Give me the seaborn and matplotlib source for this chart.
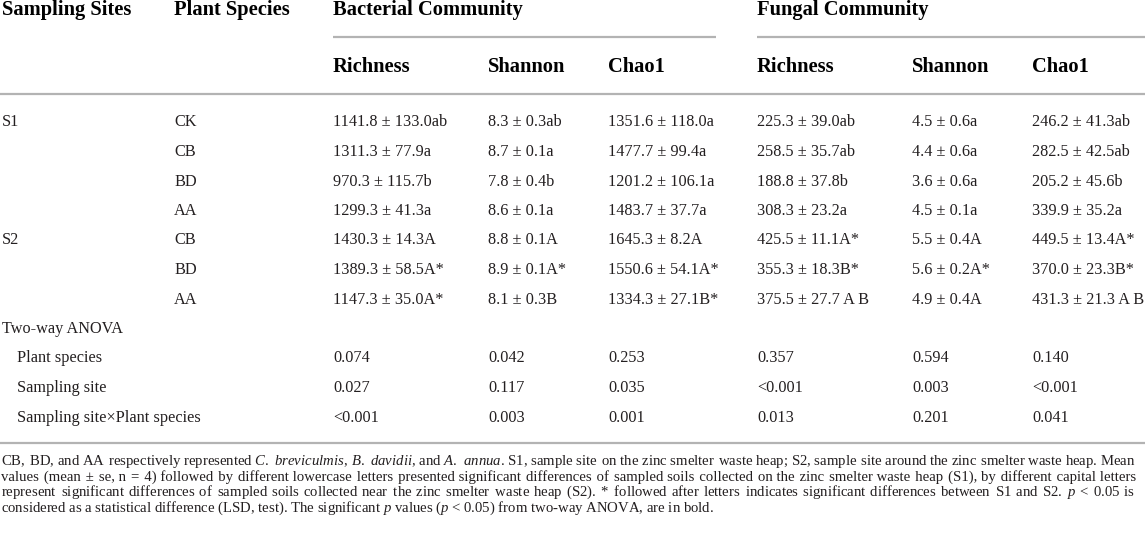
import matplotlib
matplotlib.use("Agg")
import matplotlib.pyplot as plt
import seaborn as sns

# table content
sites = ["S1", "", "", "", "S2", "", ""]
species = ["CK", "CB", "BD", "AA", "CB", "BD", "AA"]
bac_richness = ["1141.8 ± 133.0ab", "1311.3 ± 77.9a", "970.3 ± 115.7b", "1299.3 ± 41.3a",
                "1430.3 ± 14.3A", "1389.3 ± 58.5A*", "1147.3 ± 35.0A*"]
bac_shannon = ["8.3 ± 0.3ab", "8.7 ± 0.1a", "7.8 ± 0.4b", "8.6 ± 0.1a",
               "8.8 ± 0.1A", "8.9 ± 0.1A*", "8.1 ± 0.3B"]
bac_chao1 = ["1351.6 ± 118.0a", "1477.7 ± 99.4a", "1201.2 ± 106.1a", "1483.7 ± 37.7a",
             "1645.3 ± 8.2A", "1550.6 ± 54.1A*", "1334.3 ± 27.1B*"]
fun_richness = ["225.3 ± 39.0ab", "258.5 ± 35.7ab", "188.8 ± 37.8b", "308.3 ± 23.2a",
                "425.5 ± 11.1A*", "355.3 ± 18.3B*", "375.5 ± 27.7 A B"]
fun_shannon = ["4.5 ± 0.6a", "4.4 ± 0.6a", "3.6 ± 0.6a", "4.5 ± 0.1a",
               "5.5 ± 0.4A", "5.6 ± 0.2A*", "4.9 ± 0.4A"]
fun_chao1 = ["246.2 ± 41.3ab", "282.5 ± 42.5ab", "205.2 ± 45.6b", "339.9 ± 35.2a",
             "449.5 ± 13.4A*", "370.0 ± 23.3B*", "431.3 ± 21.3 A B"]

anova_terms = ["Plant species", "Sampling site", "Sampling site×Plant species"]
anova_bac_richness = ["0.074", "0.027", "<0.001"]
anova_bac_shannon = ["0.042", "0.117", "0.003"]
anova_bac_chao1 = ["0.253", "0.035", "0.001"]
anova_fun_richness = ["0.357", "<0.001", "0.013"]
anova_fun_shannon = ["0.594", "0.003", "0.201"]
anova_fun_chao1 = ["0.140", "<0.001", "0.041"]

metrics = ["Richness", "Shannon", "Chao1"]

caption = [
    r"CB, BD, and AA respectively represented $\mathit{C.}$ $\mathit{breviculmis}$, $\mathit{B.}$ $\mathit{davidii}$, and "
    r"$\mathit{A.}$ $\mathit{annua}$. S1, sample site on the zinc smelter waste heap; S2, sample site around the zinc smelter waste heap. Mean",
    "values (mean ± se, n = 4) followed by different lowercase letters presented significant differences of sampled soils "
    "collected on the zinc smelter waste heap (S1), by different capital letters",
    "represent significant differences of sampled soils collected near the zinc smelter waste heap (S2). * followed after "
    r"letters indicates significant differences between S1 and S2. $p$ < 0.05 is",
    r"considered as a statistical difference (LSD, test). The significant $p$ values ($p$ < 0.05) from two-way ANOVA, are in bold.",
]

sns.set_theme(style="white")
plt.rcParams["font.family"] = ["Liberation Serif", "DejaVu Serif"]
plt.rcParams["mathtext.fontset"] = "custom"
plt.rcParams["mathtext.rm"] = "Liberation Serif"
plt.rcParams["mathtext.it"] = "Liberation Serif:italic"

W, H = 1145, 533
fig = plt.figure(figsize=(W / 100, H / 100), dpi=100)
ax = fig.add_axes([0, 0, 1, 1])
ax.set_xlim(0, W)
ax.set_ylim(H, 0)
ax.axis("off")

col_x = [2, 174, 333, 488, 608, 757, 912, 1032]
head_size = 14.8
body_size = 11.7
cap_size = 10.6
txt = "#231f20"
rule = "#b3b3b3"

# headers
for x, s in zip(col_x[:3] + [col_x[5]],
                ["Sampling Sites", "Plant Species", "Bacterial Community", "Fungal Community"]):
    ax.text(x, 15.5, s, fontsize=head_size, fontweight="bold", va="baseline", color="black")
for i, m in enumerate(metrics + metrics):
    ax.text(col_x[2 + i], 71.5, m, fontsize=head_size, fontweight="bold", va="baseline", color="black")

ax.hlines(36.7, 333, 716, color=rule, lw=1.6)
ax.hlines(36.7, 757, W, color=rule, lw=1.6)
ax.hlines([94, 443], 0, W, color=rule, lw=1.6)

# data rows
y0, dy = 126.5, 29.5
cols = [sites, species, bac_richness, bac_shannon, bac_chao1, fun_richness, fun_shannon, fun_chao1]
for r in range(len(species)):
    y = y0 + dy * r
    for c, col in enumerate(cols):
        ax.text(col_x[c], y, col[r], fontsize=body_size, va="baseline", color=txt)

# two-way ANOVA block
y = y0 + dy * len(species)
ax.text(col_x[0], y, "Two-way ANOVA", fontsize=body_size, va="baseline", color=txt)
anova_cols = [anova_bac_richness, anova_bac_shannon, anova_bac_chao1,
              anova_fun_richness, anova_fun_shannon, anova_fun_chao1]
for r, term in enumerate(anova_terms):
    yy = y + dy * (r + 1)
    ax.text(17, yy, term, fontsize=body_size, va="baseline", color=txt)
    for c, col in enumerate(anova_cols):
        ax.text(col_x[2 + c], yy, col[r], fontsize=body_size, va="baseline", color=txt)

# footnote: first three lines justified by padding word gaps with hair spaces
renderer = fig.canvas.get_renderer()


def text_width(s):
    t = ax.text(0, 0, s, fontsize=cap_size)
    w = t.get_window_extent(renderer).width
    t.remove()
    return w


hair = "\u200a"
hair_w = (text_width("a" + hair * 10 + "a") - text_width("aa")) / 10
left, right = 1, 1136
for i, line in enumerate(caption):
    yy = 465 + 15.5 * i
    if i < len(caption) - 1:
        words = line.split(" ")
        n_gaps = len(words) - 1
        extra = max(0, int(round((right - left - text_width(line)) / hair_w)))
        pads = [extra // n_gaps] * n_gaps
        rest = extra % n_gaps
        for k in range(rest):
            pads[int(k * n_gaps / rest)] += 1
        line = words[0] + "".join(" " + hair * p + w for p, w in zip(pads, words[1:]))
    ax.text(left, yy, line, fontsize=cap_size, va="baseline", color=txt)

fig.savefig("out.png", dpi=100)
